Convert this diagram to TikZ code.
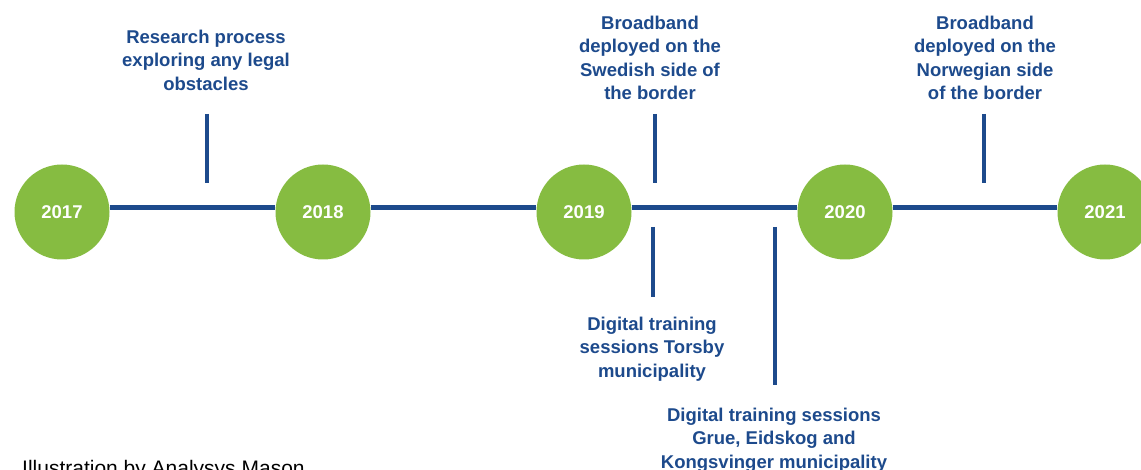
\documentclass[tikz,border=0pt]{standalone}
\usepackage{fontspec}
\setmainfont{Liberation Sans}
\usepackage{tikz}
\usetikzlibrary{positioning}

\definecolor{LineBlue}{HTML}{1D4A8C}
\definecolor{YearGreen}{HTML}{86BC41}

\begin{document}
\begin{tikzpicture}[x=1pt,y=-1pt]
		\tikzstyle{Year}	= [circle, fill=YearGreen, minimum size=95pt, inner sep=0pt, text=white, font=\fontsize{18.5}{20}\selectfont\bfseries]
		\tikzstyle{Event}	= [align=center, inner sep=0pt, text=LineBlue, font=\fontsize{18.5}{23.5}\selectfont\bfseries]
		\tikzstyle{Axis}	= [line width=5pt, LineBlue]
		\tikzstyle{Tick}	= [line width=3.5pt, LineBlue]

		\clip (0,0) rectangle (1141,470);

		% years
		\node (y2017) at (62,212) [Year] {2017};
		\node (y2018) at (323,212) [Year] {2018};
		\node (y2019) at (584,212) [Year] {2019};
		\node (y2020) at (845,212) [Year] {2020};
		\node (y2021) at (1105,212) [Year] {2021};

		\draw [-] ([yshift=4pt]y2017.east) to ([yshift=4pt]y2018.west) [Axis];
		\draw [-] ([yshift=4pt]y2018.east) to ([yshift=4pt]y2019.west) [Axis];
		\draw [-] ([yshift=4pt]y2019.east) to ([yshift=4pt]y2020.west) [Axis];
		\draw [-] ([yshift=4pt]y2020.east) to ([yshift=4pt]y2021.west) [Axis];

		% events above the line
		\node (research) at (206,60) [Event] {Research process\\exploring any legal\\obstacles};
		\node (swedish) at (650,58) [Event] {Broadband\\deployed on the\\Swedish side of\\the border};
		\node (norwegian) at (985,58) [Event] {Broadband\\deployed on the\\Norwegian side\\of the border};

		\coordinate (researchTop) at (207,114);
		\coordinate (researchBot) at (207,183);
		\coordinate (swedishTop) at (655,114);
		\coordinate (swedishBot) at (655,183);
		\coordinate (norwegianTop) at (984,114);
		\coordinate (norwegianBot) at (984,183);

		\draw [-] (researchTop) to (researchBot) [Tick];
		\draw [-] (swedishTop) to (swedishBot) [Tick];
		\draw [-] (norwegianTop) to (norwegianBot) [Tick];

		% events below the line
		\node (torsby) at (652,349) [Event] {Digital training\\sessions Torsby\\municipality};
		\node (grue) at (774,440) [Event] {Digital training sessions\\Grue, Eidskog and\\Kongsvinger municipality};

		\coordinate (torsbyTop) at (653,227);
		\coordinate (torsbyBot) at (653,297);
		\coordinate (grueTop) at (775,227);
		\coordinate (grueBot) at (775,385);

		\draw [-] (torsbyTop) to (torsbyBot) [Tick];
		\draw [-] (grueTop) to (grueBot) [Tick];

		\node (credit) at (22,475) [anchor=base west, inner sep=0pt, font=\fontsize{21}{24}\selectfont] {Illustration by Analysys Mason};
	\end{tikzpicture}
\end{document}
